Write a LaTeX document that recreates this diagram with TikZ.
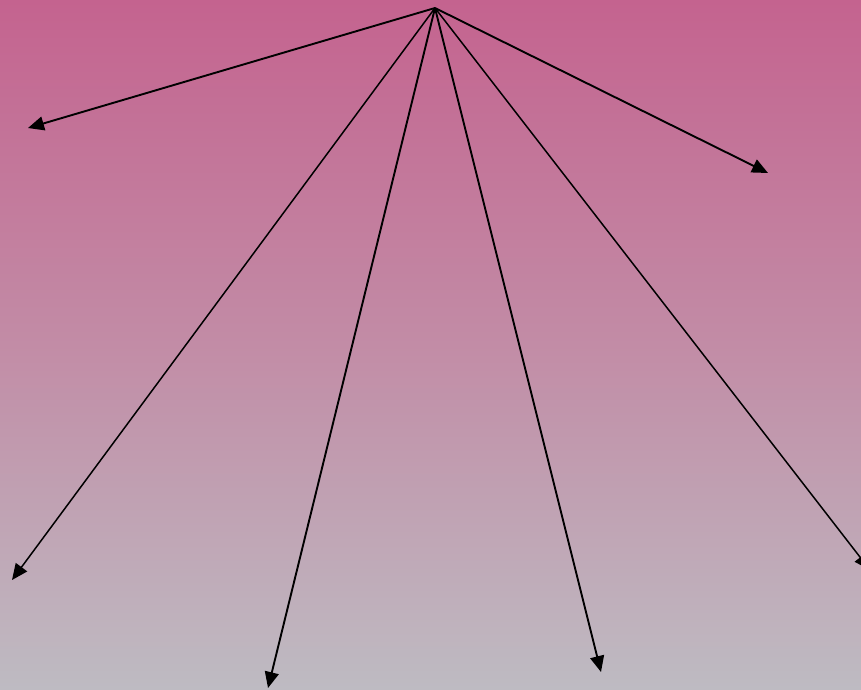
\documentclass[tikz,border=0pt]{standalone}
\usetikzlibrary{arrows.meta}
\definecolor{topc}{RGB}{196,99,143}
\definecolor{midc}{RGB}{194,140,166}
\definecolor{botc}{RGB}{190,187,194}
\begin{document}
\begin{tikzpicture}[x=1pt,y=-1pt,
  ray/.style={draw=black, line width=1.9pt, -{Triangle[length=16pt,width=14pt]}},
  thinray/.style={ray, line width=1.5pt}]
\useasboundingbox (0,0) rectangle (861,689);
\clip (0,0) rectangle (861,689);
\shade[top color=topc, bottom color=botc, middle color=midc] (0,0) rectangle (861,689);
\coordinate (src) at (435,8);
\coordinate (e1) at (28,128);
\coordinate (e2) at (768,173);
\coordinate (e3) at (12,580);
\coordinate (e4) at (268,688);
\coordinate (e5) at (601,672);
\coordinate (e6) at (870,570);
\draw[ray] (src) -- (e1);
\draw[ray] (src) -- (e2);
\draw[thinray] (src) -- (e3);
\draw[ray] (src) -- (e4);
\draw[ray] (src) -- (e5);
\draw[thinray] (src) -- (e6);
\end{tikzpicture}
\end{document}
